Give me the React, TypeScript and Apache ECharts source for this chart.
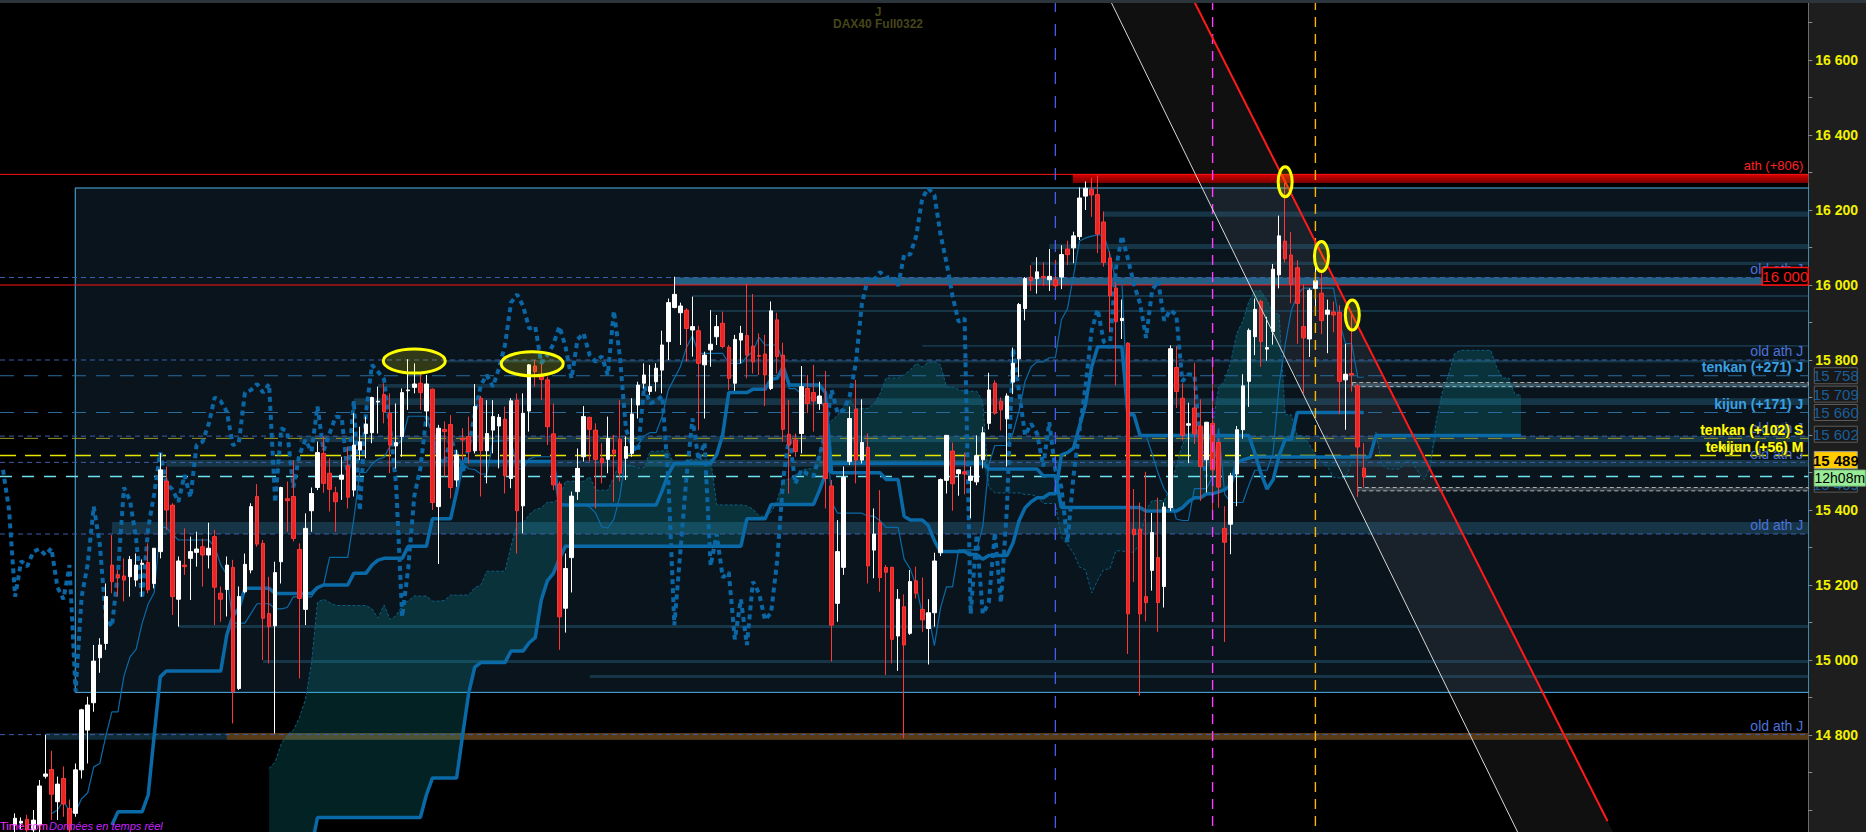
import React, { useEffect, useRef } from "react";
import * as echarts from "echarts";

// ---------------- DATA ----------------
const opens = [
  14560, 14565, 14575, 14547, 14560, 14690, 14708, 14622, 14684, 14604,
  14591, 14707, 14813, 14886, 15006, 15044, 15253, 15227, 15224, 15222,
  15213, 15255, 15260, 15204, 15289, 15477, 15413, 15162, 15253, 15271,
  15287, 15302, 15280, 15329, 15178, 15188, 15247, 14924, 15182, 15240,
  15436, 15311, 15124, 15091, 15262, 15430, 15436, 15295, 15135, 15398,
  15460, 15551, 15498, 15446, 15482, 15518, 15453, 15560, 15604, 15606,
  15688, 15708, 15658, 15571, 15596, 15718, 15727, 15738, 15664, 15722,
  15409, 15615, 15628, 15480, 15591, 15596, 15558, 15698, 15558, 15613,
  15624, 15642, 15484, 15693, 15411, 15664, 15784, 15757, 15747, 15603,
  15469, 15138, 15273, 15449, 15542, 15647, 15613, 15538, 15535, 15560,
  15589, 15538, 15551, 15680, 15738, 15716, 15742, 15773, 15849, 15940,
  15926, 15933, 15880, 15878, 15787, 15827, 15862, 15898, 15834, 15738,
  15853, 15865, 15837, 15812, 15816, 15724, 15907, 15813, 15602, 15587,
  15604, 15724, 15713, 15684, 15684, 15464, 15151, 15247, 15529, 15669,
  15533, 15567, 15293, 15366, 15247, 15247, 15064, 15142, 15071, 15211,
  15135, 15084, 15126, 15286, 15479, 15557, 15497, 15502, 15479, 15475,
  15534, 15631, 15738, 15690, 15643, 15741, 15803, 15937, 16021, 16017,
  16023, 16014, 16014, 16021, 16096, 16099, 16129, 16237, 16255, 16241,
  16168, 16072, 15992, 15905, 15845, 15349, 15349, 15169, 15239, 15273,
  15196, 15406, 15780, 15698, 15626, 15672, 15624, 15534, 15631, 15580,
  15351, 15362, 15496, 15614, 15743, 15862, 15956, 15829, 15876, 16027,
  16117, 16080, 16046, 15889, 15856, 15991, 15978, 15922, 15928, 15927,
  15747, 15764, 15731, 15512,
];
const closes = [
  14578, 14570, 14547, 14573, 14664, 14696, 14642, 14669, 14616, 14547,
  14707, 14867, 14880, 14997, 15040, 15169, 15209, 15220, 15213, 15268,
  15253, 15258, 15187, 15298, 15507, 15400, 15169, 15264, 15249, 15289,
  15296, 15280, 15298, 15194, 15162, 15253, 14916, 15169, 15255, 15409,
  15309, 15111, 15089, 15233, 15460, 15425, 15324, 15164, 15351, 15444,
  15553, 15471, 15455, 15422, 15493, 15434, 15573, 15582, 15629, 15700,
  15690, 15662, 15573, 15580, 15713, 15720, 15736, 15713, 15736, 15420,
  15618, 15609, 15460, 15547, 15587, 15556, 15676, 15558, 15604, 15649,
  15647, 15491, 15691, 15398, 15658, 15787, 15769, 15748, 15622, 15467,
  15115, 15244, 15437, 15511, 15649, 15615, 15535, 15526, 15591, 15551,
  15498, 15569, 15656, 15733, 15760, 15729, 15778, 15840, 15953, 15975,
  15944, 15884, 15889, 15791, 15813, 15842, 15889, 15836, 15751, 15855,
  15871, 15813, 15795, 15810, 15760, 15931, 15809, 15615, 15573, 15556,
  15729, 15684, 15691, 15704, 15484, 15093, 15289, 15487, 15644, 15533,
  15580, 15251, 15336, 15220, 15234, 15055, 15162, 15040, 15209, 15178,
  15107, 15126, 15264, 15481, 15599, 15470, 15507, 15496, 15490, 15545,
  15606, 15720, 15658, 15667, 15704, 15791, 15948, 16017, 16012, 16035,
  16019, 16023, 15998, 16081, 16081, 16131, 16232, 16258, 16240, 16136,
  16060, 15971, 15902, 15911, 15123, 15334, 15123, 15153, 15340, 15153,
  15408, 15830, 15716, 15599, 15630, 15603, 15516, 15634, 15507, 15461,
  15314, 15491, 15614, 15731, 15879, 15935, 15849, 15833, 16042, 16131,
  16070, 16002, 15951, 15859, 15986, 16011, 15905, 15933, 15920, 15743,
  15762, 15760, 15568, 15488,
];
const lows = [
  14500, 14550, 14460, 14450, 14540, 14684, 14573, 14573, 14582, 14390,
  14582, 14684, 14724, 14862, 14966, 15027, 15178, 15169, 15156, 15169,
  15196, 15169, 15178, 15191, 15271, 15347, 15120, 15089, 15227, 15160,
  15249, 15196, 15244, 15093, 15102, 15116, 14831, 14920, 15178, 15231,
  15302, 15000, 14991, 14804, 15204, 15342, 15316, 14951, 15093, 15342,
  15453, 15446, 15396, 15342, 15427, 15404, 15436, 15533, 15538, 15578,
  15604, 15631, 15498, 15511, 15542, 15667, 15711, 15667, 15622, 15400,
  15256, 15489, 15431, 15462, 15533, 15524, 15551, 15436, 15471, 15551,
  15511, 15444, 15458, 15284, 15338, 15609, 15729, 15693, 15573, 15453,
  15027, 15073, 15180, 15427, 15529, 15529, 15404, 15471, 15498, 15422,
  15476, 15480, 15542, 15644, 15724, 15707, 15716, 15711, 15800, 15938,
  15840, 15796, 15809, 15613, 15644, 15782, 15840, 15831, 15720, 15718,
  15791, 15751, 15764, 15760, 15677, 15720, 15764, 15582, 15444, 15542,
  15551, 15658, 15609, 15667, 15404, 14996, 15102, 15227, 15520, 15471,
  15524, 15204, 15218, 15182, 14960, 14991, 14971, 14791, 15067, 15164,
  15075, 14988, 15089, 15277, 15444, 15398, 15438, 15442, 15378, 15466,
  15511, 15615, 15654, 15612, 15516, 15709, 15755, 15906, 15984, 15977,
  15998, 15984, 15975, 15989, 16053, 16058, 16120, 16200, 16182, 16085,
  16049, 15874, 15732, 15856, 15016, 15208, 14905, 15103, 15185, 15075,
  15140, 15397, 15672, 15585, 15525, 15576, 15424, 15447, 15397, 15406,
  15048, 15282, 15410, 15590, 15675, 15813, 15782, 15798, 15841, 15991,
  16060, 15951, 15843, 15711, 15808, 15935, 15869, 15818, 15874, 15655,
  15614, 15716, 15435, 15461,
];
const highs = [
  14591, 14580, 14587, 14600, 14680, 14800, 14758, 14689, 14716, 14628,
  14724, 14870, 14902, 15040, 15058, 15204, 15333, 15240, 15271, 15277,
  15284, 15268, 15311, 15298, 15551, 15516, 15418, 15276, 15351, 15329,
  15342, 15324, 15366, 15347, 15196, 15276, 15267, 15196, 15284, 15418,
  15469, 15320, 15222, 15262, 15462, 15476, 15533, 15311, 15391, 15460,
  15582, 15596, 15538, 15462, 15542, 15569, 15658, 15622, 15649, 15702,
  15729, 15738, 15711, 15684, 15724, 15802, 15791, 15764, 15760, 15724,
  15627, 15636, 15653, 15560, 15618, 15649, 15736, 15704, 15693, 15693,
  15656, 15676, 15698, 15711, 15711, 15789, 15800, 15789, 15756, 15684,
  15476, 15284, 15449, 15564, 15677, 15649, 15631, 15578, 15649, 15600,
  15693, 15596, 15698, 15742, 15791, 15787, 15791, 15878, 15964, 16022,
  15953, 15938, 15969, 15891, 15822, 15933, 15920, 15929, 15840, 15867,
  15891, 16003, 15976, 15871, 15867, 15956, 15926, 15846, 15693, 15604,
  15784, 15760, 15787, 15742, 15771, 15480, 15373, 15516, 15676, 15747,
  15695, 15604, 15404, 15453, 15253, 15249, 15189, 15175, 15240, 15249,
  15220, 15162, 15286, 15484, 15599, 15580, 15509, 15553, 15516, 15599,
  15622, 15766, 15746, 15700, 15711, 15833, 15952, 16021, 16053, 16074,
  16060, 16096, 16067, 16106, 16118, 16142, 16260, 16276, 16286, 16292,
  16196, 16090, 16007, 15961, 15847, 15456, 15420, 15502, 15392, 15433,
  15420, 15839, 15837, 15738, 15686, 15792, 15695, 15635, 15784, 15591,
  15410, 15499, 15624, 15762, 15884, 15964, 15961, 15915, 16056, 16185,
  16272, 16141, 16066, 16002, 15991, 16073, 16037, 15961, 15956, 15946,
  15843, 15930, 15736, 15578,
];

// indicator values read where the history on screen is too short to derive them
const earlyTenkanStart = 6;
const earlyTenkan = [14590, 14600];
const earlyKijunStart = 16;
const earlyKijun = [14560, 14595, 14595, 14595, 14595, 14595, 14640, 14800, 14955];
const earlySpanBStart = 40;
const earlySpanB = [
  14500, 14500, 14500, 14500, 14500, 14500, 14500, 14500, 14500, 14500,
  14580, 14580, 14580, 14580, 14580, 14580, 14580, 14580, 14580,
  14580, 14580, 14580, 14580, 14580, 14580, 14580, 14580, 14580,
  14640, 14685, 14685, 14685, 14685, 14685, 14800, 14912, 14981,
];

// price axis
const tickPrices = [14600, 14700, 14800, 14900, 15000, 15100, 15200, 15300, 15400, 15500, 15600, 15700, 15800, 15900, 16000, 16100, 16200, 16300, 16400, 16500, 16600, 16700];
const labelPrices = [14800, 15000, 15200, 15400, 15800, 16000, 16200, 16400, 16600];

// zones [start candle index, high price, low price]
const zones = [
  [180, 16196, 16182], [171, 16109, 16096], [168, 16062, 16053], [112, 15973, 15968],
  [115, 15933, 15928], [150, 15840, 15835], [71, 15800, 15793], [60, 15736, 15726],
  [56, 15698, 15680], [47, 15597, 15581], [25, 15533, 15515], [16, 15368, 15336],
  [27, 15093, 15085], [41, 15000, 14992], [95, 14960, 14952], [5, 14805, 14787],
];
const keyZone = [109, 16020, 16000];
const athZone = [174.9, 16295, 16272];
const supportZone = [35, 14805, 14787];
const greyZones = [[221.1, 15740, 15729], [222, 15460, 15451]];
const analysisBox = [9.86, 16260, 14915];

// level lines [start index, price]
const redLevels = [[-2.5, 16295], [-2.5, 16000]];
const oldAthLevels = [[-2.5, 16020], [-2.5, 15800], [-2.5, 15597], [-2.5, 15527], [-2.5, 15336], [-2.5, 14801]];
const dailyLevels = [[-2.5, 15758], [-2.5, 15660]];
const weeklyLevels = [[-2.5, 15591]];
const monthlyLevels = [[-2.5, 15545]];
const lastPriceLevels = [[-2.5, 15489]];

// labels [price, text]
const athLabels = [[16295, "ath (+806)"]];
const oldAthLabels = [[16020, "old ath J"], [15800, "old ath J"], [15597, "old ath J"], [15527, "old ath J"], [15336, "old ath J"], [14801, "old ath J"]];
const dailyLabels = [[15758, "tenkan (+271) J"], [15660, "kijun (+171) J"]];
const yellowLabels = [[15591, "tenkan (+102) S"], [15545, "tenkan (+56) M"], [15545, "kijun (+56) M"]];
const greyPriceBoxes = [[15758, "15 758"], [15709, "15 709"], [15660, "15 660"], [15602, "15 602"], [15469, "15 469"]];
const lastPriceBox = [15489, "15 489"];
const timerText = "12h08m";
const roundLevelBox = [16000, "16 000"];

// markers
const dateMarkers = [172, 198, 215];
const redTrend = [[210, 16275], [221.1, 15920]];
const redTrendEnd = 14570;
const whiteTrend = [[181.05, 16760], [248.44, 14541]];
const ellipses = [[66, 15797, "wide"], [85.5, 15790, "wide"], [210, 16275, "tall"], [216, 16076, "tall"], [221.1, 15920, "tall"]];

// ---------------- LAYOUT / STYLE ----------------
const N = closes.length;
const LEAD = 2;
const NCAT = 299;
const X_MIN = -2.5;
const X_MAX = 296.5;
const Y_MIN = 14541.33;
const Y_MAX = 16760;
const FONT = "'Liberation Sans', Arial, sans-serif";
const BLUE = "#0a6aa8";

function mid(i: number, len: number): number | null {
  if (i - len + 1 < 0 || i >= N) return null;
  let hi = -Infinity, lo = Infinity;
  for (let k = i - len + 1; k <= i; k++) {
    hi = Math.max(hi, highs[k]);
    lo = Math.min(lo, lows[k]);
  }
  return (hi + lo) / 2;
}
function fromEarly(start: number, arr: number[], i: number): number | null {
  const j = i - start;
  return j >= 0 && j < arr.length ? arr[j] : null;
}
const tenkanAt = (i: number) => fromEarly(earlyTenkanStart, earlyTenkan, i) ?? mid(i, 9);
const kijunAt = (i: number) => fromEarly(earlyKijunStart, earlyKijun, i) ?? mid(i, 26);
const spanAAt = (i: number) => {
  const t = tenkanAt(i - 26), k = kijunAt(i - 26);
  return t != null && k != null ? (t + k) / 2 : null;
};
const spanBAt = (i: number) => fromEarly(earlySpanBStart, earlySpanB, i) ?? mid(i - 26, 52);
const chikouAt = (i: number) => (i + 26 >= 0 && i + 26 < N ? closes[i + 26] : null);

const toCat = (fn: (i: number) => number | null) =>
  Array.from({ length: NCAT }, (_, k) => {
    const v = fn(k - LEAD);
    return v == null ? "-" : v;
  });

const idxAtPrice = (t: number[][], price: number) =>
  t[0][0] + ((price - t[0][1]) * (t[1][0] - t[0][0])) / (t[1][1] - t[0][1]);

const fmt = (v: number) => String(v).replace(/\B(?=(\d{3})+(?!\d))/g, " ");

function txt(x: number, y: number, text: string, fill: string, font: string, align = "left", extra: any = {}) {
  return {
    type: "text",
    x,
    y,
    style: { text, fill, font, align, verticalAlign: "middle", textAlign: align, textVerticalAlign: "middle", ...extra },
  };
}

function custom(z: number, data: any[], renderItem: any, clip = true) {
  return { type: "custom", xAxisIndex: 1, yAxisIndex: 0, z, silent: true, clip, data, renderItem };
}

function zoneRender(list: number[][], styleFn: (i: number) => any) {
  return (params: any, api: any) => {
    const d = list[params.dataIndex];
    const a = api.coord([d[0], d[1]]);
    const b = api.coord([X_MAX, d[2]]);
    return {
      type: "rect",
      shape: { x: a[0], y: a[1], width: b[0] - a[0], height: Math.max(1, b[1] - a[1]) },
      style: styleFn(params.dataIndex),
    };
  };
}

function levelRender(list: number[][], style: any) {
  return (params: any, api: any) => {
    const d = list[params.dataIndex];
    const a = api.coord([d[0], d[1]]);
    const b = api.coord([X_MAX, d[1]]);
    return { type: "line", shape: { x1: a[0], y1: a[1], x2: b[0], y2: b[1] }, style };
  };
}

function labelRender(list: any[], fill: string, font: string, extra: any = {}) {
  return (params: any, api: any) => {
    const d = list[params.dataIndex];
    const p = api.coord([X_MAX, d[0]]);
    return txt(p[0] - 5, p[1] - 8.5, d[1], fill, font, "right", extra);
  };
}

function buildOption() {
  const cats = Array.from({ length: NCAT }, (_, k) => String(k - LEAD));
  const candleData = cats.map((_, k) => {
    const i = k - LEAD;
    return i >= 0 && i < N ? [opens[i], closes[i], lows[i], highs[i]] : "-";
  });
  const base = toCat((i) => {
    const a = spanAAt(i), b = spanBAt(i);
    return a == null || b == null ? null : Math.min(a, b);
  });
  const bull = toCat((i) => {
    const a = spanAAt(i), b = spanBAt(i);
    return a == null || b == null ? null : a >= b ? a - b : 0;
  });
  const bear = toCat((i) => {
    const a = spanAAt(i), b = spanBAt(i);
    return a == null || b == null ? null : b > a ? b - a : 0;
  });

  const dateStyles = [
    { stroke: "#4a62ff", lineWidth: 1.2, lineDash: [12, 12] },
    { stroke: "#ff3cff", lineWidth: 1.4, lineDash: [10, 7] },
    { stroke: "#ffb400", lineWidth: 1.4, lineDash: [10, 7] },
  ];

  const series: any[] = [
    // analysis frame
    custom(1, [analysisBox.slice(0, 2)], (params: any, api: any) => {
      const a = api.coord([analysisBox[0], analysisBox[1]]);
      const b = api.coord([X_MAX, analysisBox[2]]);
      return {
        type: "rect",
        shape: { x: a[0] + 0.5, y: a[1] + 0.5, width: b[0] - a[0], height: b[1] - a[1] },
        style: { fill: "#0a141c", stroke: "#4fb4ec", lineWidth: 1 },
      };
    }),
    // shaded channel between trend lines
    custom(2, [[0, Y_MIN]], (params: any, api: any) => {
      const pts = [
        [idxAtPrice(whiteTrend, Y_MAX), Y_MAX],
        [idxAtPrice(redTrend, Y_MAX), Y_MAX],
        [idxAtPrice(redTrend, Y_MIN), Y_MIN],
        [idxAtPrice(whiteTrend, Y_MIN), Y_MIN],
      ].map((p) => api.coord(p));
      return { type: "polygon", shape: { points: pts }, style: { fill: "rgba(210,220,230,0.075)" } };
    }),
    // zones
    custom(3, zones.map((z) => [z[0], z[1]]), zoneRender(zones, () => ({ fill: "rgba(40,100,132,0.42)" }))),
    custom(3, [keyZone.slice(0, 2)], zoneRender([keyZone], () => ({ fill: "rgba(44,118,160,0.78)" }))),
    custom(3, [supportZone.slice(0, 2)], zoneRender([supportZone], () => ({ fill: "#583a16" }))),
    custom(3, [athZone.slice(0, 2)], zoneRender([athZone], () => ({
      fill: new echarts.graphic.LinearGradient(0, 0, 0, 1, [
        { offset: 0, color: "#d80000" },
        { offset: 0.4, color: "#b00000" },
        { offset: 1, color: "#780000" },
      ]),
    }))),
    custom(3, greyZones.map((z) => [z[0], z[1]]), zoneRender(greyZones, () => ({
      fill: "rgba(150,165,175,0.28)", stroke: "#b0b0b0", lineWidth: 1, lineDash: [4, 3],
    }))),
    // cloud
    {
      type: "line", xAxisIndex: 0, yAxisIndex: 0, stack: "cloud", data: base, symbol: "none", silent: true, z: 4,
      lineStyle: { opacity: 0 },
    },
    {
      type: "line", xAxisIndex: 0, yAxisIndex: 0, stack: "cloud", data: bull, symbol: "none", silent: true, z: 4,
      lineStyle: { opacity: 0 }, areaStyle: { color: "rgba(12,200,205,0.24)" },
    },
    {
      type: "line", xAxisIndex: 0, yAxisIndex: 0, stack: "cloud", data: bear, symbol: "none", silent: true, z: 4,
      lineStyle: { opacity: 0 }, areaStyle: { color: "rgba(0,100,118,0.22)" },
    },
    // level lines
    custom(5, redLevels, levelRender(redLevels, { stroke: "#ff1414", lineWidth: 1 })),
    custom(5, oldAthLevels, levelRender(oldAthLevels, { stroke: "#3d5eaa", lineWidth: 1, lineDash: [5, 4] })),
    custom(5, dailyLevels, levelRender(dailyLevels, { stroke: "#2a6c9e", lineWidth: 1, lineDash: [14, 10] })),
    custom(5, weeklyLevels, levelRender(weeklyLevels, { stroke: "#9a9a22", lineWidth: 1, lineDash: [14, 10] })),
    custom(5, monthlyLevels, levelRender(monthlyLevels, { stroke: "#e6e600", lineWidth: 1.5, lineDash: [16, 9] })),
    custom(5, lastPriceLevels, levelRender(lastPriceLevels, { stroke: "#6ee2ee", lineWidth: 1.5, lineDash: [12, 10] })),
    // ichimoku lines
    {
      type: "line", xAxisIndex: 0, yAxisIndex: 0, data: toCat(spanAAt), symbol: "none", silent: true, z: 6,
      lineStyle: { color: "#0b5f86", width: 1, type: [3, 2] },
    },
    {
      type: "line", xAxisIndex: 0, yAxisIndex: 0, data: toCat(spanBAt), symbol: "none", silent: true, z: 6,
      lineStyle: { color: BLUE, width: 3.5 },
    },
    {
      type: "line", xAxisIndex: 0, yAxisIndex: 0, data: toCat(tenkanAt), symbol: "none", silent: true, z: 6,
      lineStyle: { color: BLUE, width: 1.2 },
    },
    {
      type: "line", xAxisIndex: 0, yAxisIndex: 0, data: toCat(kijunAt), symbol: "none", silent: true, z: 6,
      lineStyle: { color: BLUE, width: 3.5 },
    },
    {
      type: "line", xAxisIndex: 0, yAxisIndex: 0, data: toCat(chikouAt), symbol: "none", silent: true, z: 6,
      lineStyle: { color: "#0a66a4", width: 4, type: [5, 4] },
    },
    // candles
    {
      type: "candlestick", xAxisIndex: 0, yAxisIndex: 0, data: candleData, barWidth: 4, silent: true, z: 7,
      itemStyle: { color: "#ffffff", color0: "#e82626", borderColor: "#ffffff", borderColor0: "#ff3636", borderWidth: 1 },
    },
    // date markers
    custom(8, dateMarkers.map((d) => [d, Y_MIN]), (params: any, api: any) => {
      const x = api.coord([dateMarkers[params.dataIndex], Y_MIN])[0];
      const top = api.coord([0, Y_MAX])[1];
      const bot = api.coord([0, Y_MIN])[1];
      return { type: "line", shape: { x1: x, y1: top, x2: x, y2: bot }, style: dateStyles[params.dataIndex] };
    }),
    // trend lines
    custom(9, [[0, Y_MIN]], (params: any, api: any) => {
      const w1 = api.coord([idxAtPrice(whiteTrend, Y_MAX), Y_MAX]);
      const w2 = api.coord([idxAtPrice(whiteTrend, Y_MIN), Y_MIN]);
      const r1 = api.coord([idxAtPrice(redTrend, Y_MAX), Y_MAX]);
      const r2 = api.coord([idxAtPrice(redTrend, redTrendEnd), redTrendEnd]);
      return {
        type: "group",
        children: [
          { type: "line", shape: { x1: w1[0], y1: w1[1], x2: w2[0], y2: w2[1] }, style: { stroke: "#d8d8d8", lineWidth: 1 } },
          { type: "line", shape: { x1: r1[0], y1: r1[1], x2: r2[0], y2: r2[1] }, style: { stroke: "#ff1a1a", lineWidth: 2 } },
        ],
      };
    }),
    // ellipses
    custom(10, ellipses.map((e) => [e[0], e[1]]), (params: any, api: any) => {
      const e = ellipses[params.dataIndex];
      const c = api.coord([e[0], e[1]]);
      const wide = e[2] === "wide";
      return {
        type: "ellipse",
        shape: { cx: c[0], cy: c[1], rx: wide ? 31 : 7, ry: wide ? 12 : 15 },
        style: { fill: "rgba(255,255,0,0.16)", stroke: "#ffff00", lineWidth: 3 },
      };
    }),
    // labels
    custom(11, athLabels.map((l) => [X_MAX, l[0]]), labelRender(athLabels, "#ff2020", `13px ${FONT}`), false),
    custom(11, oldAthLabels.map((l) => [X_MAX, l[0]]), labelRender(oldAthLabels, "#4c72d8", `14px ${FONT}`), false),
    custom(12, dailyLabels.map((l) => [X_MAX, l[0]]), labelRender(dailyLabels, "#3aa0e2", `bold 14px ${FONT}`), false),
    custom(12, yellowLabels.map((l) => [X_MAX, l[0]]), labelRender(yellowLabels, "#ffff10", `bold 14px ${FONT}`, { stroke: "#2a2a00", lineWidth: 1 }), false),
    // price boxes on the axis
    custom(13, greyPriceBoxes.map((b) => [X_MAX, b[0]]), (params: any, api: any) => {
      const b = greyPriceBoxes[params.dataIndex];
      const p = api.coord([X_MAX, b[0]]);
      return {
        type: "group",
        children: [
          { type: "rect", shape: { x: p[0] + 6, y: p[1] - 8, width: 43, height: 16 }, style: { fill: "#181818", stroke: "#5c5c5c", lineWidth: 1 } },
          txt(p[0] + 27.5, p[1], b[1] as string, "#1a5f98", `15px ${FONT}`, "center"),
        ],
      };
    }, false),
    custom(14, [[X_MAX, lastPriceBox[0]]], (params: any, api: any) => {
      const p = api.coord([X_MAX, lastPriceBox[0]]);
      return {
        type: "group",
        children: [
          { type: "rect", shape: { x: p[0] + 6, y: p[1] - 25, width: 43, height: 17 }, style: { fill: "#ffcc00", stroke: "#9a9a9a", lineWidth: 1 } },
          txt(p[0] + 27.5, p[1] - 16.5, lastPriceBox[1] as string, "#000000", `bold 15px ${FONT}`, "center"),
          { type: "rect", shape: { x: p[0] + 6, y: p[1] - 6.5, width: 51, height: 16 }, style: { fill: "#98ec98", stroke: "#7ac07a", lineWidth: 1 } },
          txt(p[0] + 31.5, p[1] + 1.5, timerText, "#000000", `14px ${FONT}`, "center"),
        ],
      };
    }, false),
    custom(14, [[X_MAX, roundLevelBox[0]]], (params: any, api: any) => {
      const p = api.coord([X_MAX, roundLevelBox[0]]);
      return {
        type: "group",
        children: [
          { type: "rect", shape: { x: p[0] - 46, y: p[1] - 17.5, width: 46, height: 17.5 }, style: { fill: "#000000", stroke: "#ff1010", lineWidth: 1.5 } },
          txt(p[0] - 23, p[1] - 8.5, roundLevelBox[1] as string, "#ff1a1a", `15px ${FONT}`, "center"),
        ],
      };
    }, false),
  ];

  return {
    animation: false,
    backgroundColor: "transparent",
    grid: { left: 0, right: 57.7, top: 0, bottom: 0, containLabel: false },
    xAxis: [
      { type: "category", data: cats, boundaryGap: true, show: false },
      { type: "value", min: X_MIN, max: X_MAX, show: false },
    ],
    yAxis: {
      type: "value",
      position: "right",
      min: Y_MIN,
      max: Y_MAX,
      splitLine: { show: false },
      axisLine: { show: true, onZero: false, lineStyle: { color: "#6c6c6c", width: 1 } },
      axisTick: { show: true, customValues: tickPrices, length: 4, lineStyle: { color: "#8c8c8c" } },
      axisLabel: {
        customValues: labelPrices,
        formatter: (v: number) => fmt(v),
        color: "#f2f200",
        fontWeight: "bold",
        fontSize: 14,
        fontFamily: FONT,
        margin: 7,
      },
    },
    graphic: [
      { type: "rect", z: 100, shape: { x: 0, y: 0, width: 1866, height: 3 }, style: { fill: "#2c343c" } },
      { ...txt(878, 12, "J", "#46461a", `bold 12px ${FONT}`, "center"), z: 100 },
      { ...txt(878, 24, "DAX40 Full0322", "#46461a", `bold 12px ${FONT}`, "center"), z: 100 },
      { ...txt(0, 826, "Time.com", "#ff30ff", `11px ${FONT}`, "left"), z: 100 },
      { ...txt(49, 826, "Données en temps réel", "#c824ff", `italic 11px ${FONT}`, "left"), z: 100 },
    ],
    series,
  };
}

export default function App() {
  const ref = useRef<HTMLDivElement>(null);
  useEffect(() => {
    if (!ref.current) return;
    const chart = echarts.init(ref.current, null, { renderer: "svg" });
    chart.setOption(buildOption() as any);
    return () => chart.dispose();
  }, []);
  return (
    <div
      ref={ref}
      style={{
        position: "fixed",
        left: 0,
        top: 0,
        width: 1866,
        height: 832,
        background: "linear-gradient(to right, #000 0px, #000 1808px, #1e1e1e 1808px)",
      }}
    />
  );
}
